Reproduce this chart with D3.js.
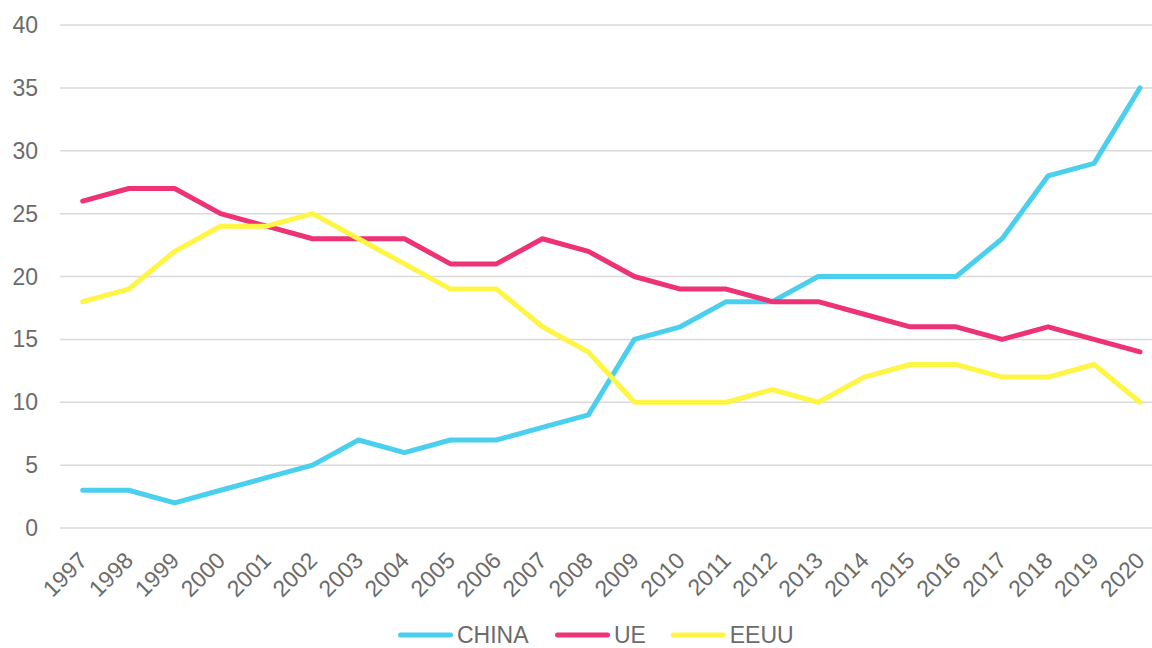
<!DOCTYPE html>
<html>
<head>
<meta charset="utf-8">
<script src="https://cdn.jsdelivr.net/npm/d3@7"></script>
<style>
  body { margin: 0; background: #fff; }
  svg text { font-family: "Liberation Sans", Arial, sans-serif; fill: #6b6b6b; }
</style>
</head>
<body>
<div id="chart"></div>
<script>
const years = ["1997","1998","1999","2000","2001","2002","2003","2004","2005","2006","2007","2008",
  "2009","2010","2011","2012","2013","2014","2015","2016","2017","2018","2019","2020"];
const china = [3, 3, 2, 3, 4, 5, 7, 6, 7, 7, 8, 9, 15, 16, 18, 18, 20, 20, 20, 20, 23, 28, 29, 35];
const ue = [26, 27, 27, 25, 24, 23, 23, 23, 21, 21, 23, 22, 20, 19, 19, 18, 18, 17, 16, 16, 15, 16, 15, 14];
const eeuu = [18, 19, 22, 24, 24, 25, 23, 21, 19, 19, 16, 14, 10, 10, 10, 11, 10, 12, 13, 13, 12, 12, 13, 10];
const yTicks = [0, 5, 10, 15, 20, 25, 30, 35, 40];

const series = [
  { name: "CHINA", color: "#4bcfee", values: china },
  { name: "UE", color: "#ee3276", values: ue },
  { name: "EEUU", color: "#fff544", values: eeuu }
];

const width = 1152, height = 648;
const svg = d3.select("#chart").append("svg")
  .attr("width", width)
  .attr("height", height);

const x = d3.scalePoint()
  .domain(years)
  .range([82.7, 1140]);

const y = d3.scaleLinear()
  .domain([0, 40])
  .range([528, 25]);

// gridlines
svg.selectAll("line.grid")
  .data(yTicks)
  .enter()
  .append("line")
  .attr("class", "grid")
  .attr("x1", 60)
  .attr("x2", width)
  .attr("y1", d => y(d))
  .attr("y2", d => y(d))
  .attr("stroke", "#d9d9d9")
  .attr("stroke-width", 1.5);

// y labels
svg.selectAll("text.ylab")
  .data(yTicks)
  .enter()
  .append("text")
  .attr("class", "ylab")
  .text(d => d)
  .attr("x", 38)
  .attr("y", d => y(d))
  .attr("dy", "0.35em")
  .attr("text-anchor", "end")
  .attr("font-size", "23px");

// x labels, rotated
svg.selectAll("text.xlab")
  .data(years)
  .enter()
  .append("text")
  .attr("class", "xlab")
  .text(d => d)
  .attr("text-anchor", "end")
  .attr("font-size", "23px")
  .attr("transform", d => "translate(" + (x(d) + 6) + ",562) rotate(-45)");

const line = d3.line()
  .x((d, i) => x(years[i]))
  .y(d => y(d));

svg.selectAll("path.series")
  .data(series)
  .enter()
  .append("path")
  .attr("class", "series")
  .attr("d", s => line(s.values))
  .attr("fill", "none")
  .attr("stroke", s => s.color)
  .attr("stroke-width", 5)
  .attr("stroke-linejoin", "round")
  .attr("stroke-linecap", "round");

// legend
const legendX = [400.5, 557.5, 673.2];
const legend = svg.selectAll("g.legend")
  .data(series)
  .enter()
  .append("g")
  .attr("class", "legend")
  .attr("transform", (s, i) => "translate(" + legendX[i] + ",635)");

legend.append("line")
  .attr("x1", 0)
  .attr("x2", 50)
  .attr("stroke", s => s.color)
  .attr("stroke-width", 5)
  .attr("stroke-linecap", "round");

legend.append("text")
  .text(s => s.name)
  .attr("x", 56.5)
  .attr("dy", "0.35em")
  .attr("font-size", "23px");
</script>
</body>
</html>
